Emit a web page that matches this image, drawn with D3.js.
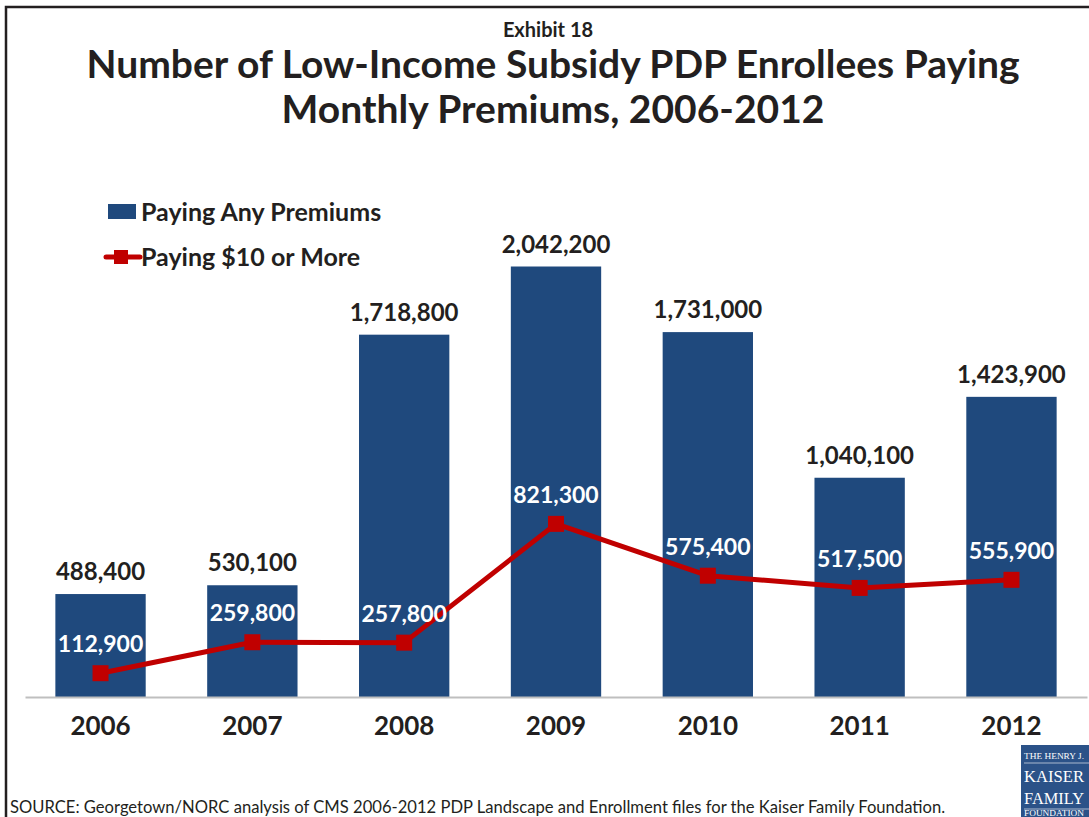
<!DOCTYPE html>
<html>
<head>
<meta charset="utf-8">
<script src="https://cdn.jsdelivr.net/npm/d3@7"></script>
<style>
  body { margin: 0; background: #fff; }
  svg { font-family: Lato, "Open Sans", sans-serif; }
</style>
</head>
<body>
<div id="chart"></div>
<script>
// data read from the exhibit
const years = ['2006', '2007', '2008', '2009', '2010', '2011', '2012']
const anyPremiums = [488400, 530100, 1718800, 2042200, 1731000, 1040100, 1423900]
const tenOrMore = [112900, 259800, 257800, 821300, 575400, 517500, 555900]
const seriesNames = ['Paying Any Premiums', 'Paying $10 or More']

const width = 1089
const height = 817

const blue = '#1f497d'
const red = '#c00000'
const ink = '#231f20'

// plot area
const padding = { top: 170, right: 2, bottom: 120, left: 25 }
const plotW = width - padding.left - padding.right
const plotH = height - padding.top - padding.bottom

const xScale = d3.scaleBand().domain(years).range([0, plotW]).paddingInner(0.405).paddingOuter(0.2)
const yScale = d3.scaleLinear().domain([0, 2500000]).range([plotH, 0])
const fmt = d3.format(',')

const svg = d3.select('#chart').append('svg').attr('width', width).attr('height', height)

// frame (left + top only)
svg.append('path')
  .attr('d', `M6,${height} L6,7 L${width},7`)
  .attr('fill', 'none').attr('stroke', ink).attr('stroke-width', 2.5)

// titles
svg.append('text').attr('x', 548).attr('y', 37).attr('text-anchor', 'middle')
  .attr('font-size', 20).attr('font-weight', 700).attr('fill', ink).text('Exhibit 18')
svg.append('text').attr('x', 553).attr('y', 78).attr('text-anchor', 'middle')
  .attr('font-size', 39).attr('font-weight', 700).attr('fill', ink)
  .text('Number of Low-Income Subsidy PDP Enrollees Paying')
svg.append('text').attr('x', 553).attr('y', 123).attr('text-anchor', 'middle')
  .attr('font-size', 39).attr('font-weight', 700).attr('fill', ink)
  .text('Monthly Premiums, 2006-2012')

const g = svg.append('g').attr('transform', `translate(${padding.left} ${padding.top})`)

// bars
g.append('g').selectAll('rect').data(anyPremiums).join('rect')
  .attr('x', (d, i) => xScale(years[i]))
  .attr('y', d => yScale(d))
  .attr('width', xScale.bandwidth())
  .attr('height', d => plotH - yScale(d))
  .attr('fill', blue)

// axis line + year labels
const xAxis = g.append('g').attr('transform', `translate(0 ${plotH})`)
  .call(d3.axisBottom(xScale).tickSize(0).tickPadding(20))
xAxis.select('.domain').attr('stroke', '#bfbfbf').attr('stroke-width', 2)
xAxis.selectAll('text').attr('font-size', 26).attr('font-weight', 700)
  .attr('fill', ink).attr('font-family', 'Lato, sans-serif')

// bar labels
g.append('g').selectAll('text').data(anyPremiums).join('text')
  .attr('x', (d, i) => xScale(years[i]) + xScale.bandwidth() / 2)
  .attr('y', d => yScale(d) - 14)
  .attr('text-anchor', 'middle')
  .attr('font-size', 24).attr('font-weight', 700).attr('fill', ink)
  .text(d => fmt(d))

// line series
const cx = (d, i) => xScale(years[i]) + xScale.bandwidth() / 2
const line = d3.line().x(cx).y(d => yScale(d))
g.append('path').datum(tenOrMore)
  .attr('d', line).attr('fill', 'none').attr('stroke', red).attr('stroke-width', 5)
  .attr('stroke-linejoin', 'round')
g.append('g').selectAll('rect').data(tenOrMore).join('rect')
  .attr('x', (d, i) => cx(d, i) - 8)
  .attr('y', d => yScale(d) - 8)
  .attr('width', 16).attr('height', 16)
  .attr('fill', red)

// line labels (white, inside the bars)
g.append('g').selectAll('text').data(tenOrMore).join('text')
  .attr('x', cx)
  .attr('y', d => yScale(d) - 21)
  .attr('text-anchor', 'middle')
  .attr('font-size', 23).attr('font-weight', 700).attr('fill', '#fff')
  .text(d => fmt(d))

// legend
const legend = svg.append('g')
legend.append('rect').attr('x', 108).attr('y', 204).attr('width', 28).attr('height', 15).attr('fill', blue)
legend.append('text').attr('x', 141).attr('y', 221).attr('font-size', 25).attr('font-weight', 700)
  .attr('fill', ink).text(seriesNames[0])
legend.append('line').attr('x1', 106).attr('x2', 140).attr('y1', 257).attr('y2', 257)
  .attr('stroke', red).attr('stroke-width', 5).attr('stroke-linecap', 'round')
legend.append('rect').attr('x', 114).attr('y', 250).attr('width', 14).attr('height', 14).attr('fill', red)
legend.append('text').attr('x', 141).attr('y', 266).attr('font-size', 25).attr('font-weight', 700)
  .attr('fill', ink).text(seriesNames[1])

// source note
svg.append('text').attr('x', 10).attr('y', 813).attr('font-size', 16.6).attr('fill', ink)
  .text('SOURCE: Georgetown/NORC analysis of CMS 2006-2012 PDP Landscape and Enrollment files for the Kaiser Family Foundation.')

// KFF logo block
const logo = svg.append('g').attr('transform', 'translate(1021 745)')
logo.append('rect').attr('width', 68).attr('height', 72).attr('fill', '#2b5288')
logo.append('line').attr('x1', 3).attr('x2', 68).attr('y1', 18).attr('y2', 18).attr('stroke', '#fff').attr('stroke-width', 0.6)
logo.append('line').attr('x1', 3).attr('x2', 68).attr('y1', 64).attr('y2', 64).attr('stroke', '#fff').attr('stroke-width', 0.6)
const logoText = (y, size, txt) => logo.append('text').attr('x', 3).attr('y', y)
  .style('font-family', '"Liberation Serif", "DejaVu Serif", serif')
  .attr('font-size', size).attr('fill', '#fff')
  .attr('textLength', 60).attr('lengthAdjust', 'spacingAndGlyphs').text(txt)
logoText(14, 8, 'THE HENRY J.')
logoText(37, 17, 'KAISER')
logoText(59, 16, 'FAMILY')
logoText(71, 7.5, 'FOUNDATION')
</script>
</body>
</html>
